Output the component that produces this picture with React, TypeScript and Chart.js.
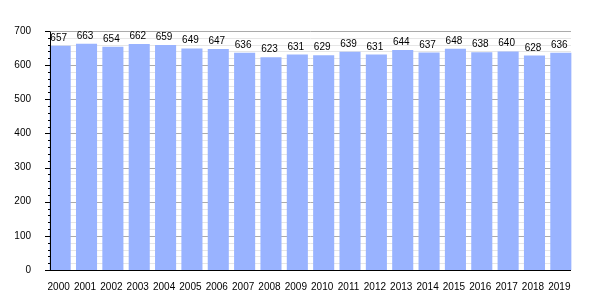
import React, { useEffect, useRef } from "react";
import { Chart, registerables } from "chart.js";

Chart.register(...registerables);

const years = [
  "2000", "2001", "2002", "2003", "2004", "2005", "2006", "2007", "2008", "2009",
  "2010", "2011", "2012", "2013", "2014", "2015", "2016", "2017", "2018", "2019",
];
const values = [
  657, 663, 654, 662, 659, 649, 647, 636, 623, 631,
  629, 639, 631, 644, 637, 648, 638, 640, 628, 636,
];
const yMin = 0;
const yMax = 700;
const yMinorStep = 20;
const yMajorStep = 100;

const FONT = "'Liberation Sans', Arial, Helvetica, sans-serif";
const BAR_COLOR = "#99b3ff";

const customPlugin = {
  id: "customAxes",
  beforeDatasetsDraw(chart: any) {
    const ctx = chart.ctx;
    const y = chart.scales.y;
    const meta = chart.getDatasetMeta(0);
    const first = meta.data[0];
    const last = meta.data[meta.data.length - 1];
    const left = Math.round(first.x - first.width / 2);
    const right = Math.round(last.x + last.width / 2);
    ctx.save();
    ctx.lineWidth = 1;
    for (let v = yMin; v <= yMax; v += yMinorStep) {
      const py = Math.round(y.getPixelForValue(v)) + 0.5;
      ctx.strokeStyle = v % yMajorStep === 0 ? "#ababab" : "#e6e6e6";
      ctx.beginPath();
      ctx.moveTo(left, py);
      ctx.lineTo(right, py);
      ctx.stroke();
    }
    ctx.restore();
  },
  afterDatasetsDraw(chart: any) {
    const ctx = chart.ctx;
    const y = chart.scales.y;
    const meta = chart.getDatasetMeta(0);
    const first = meta.data[0];
    const last = meta.data[meta.data.length - 1];
    const left = Math.round(first.x - first.width / 2);
    const right = Math.round(last.x + last.width / 2);
    const ax = left + 0.5;
    const top = Math.round(y.getPixelForValue(yMax)) + 0.5;
    const bottom = Math.round(y.getPixelForValue(yMin)) + 0.5;
    ctx.save();
    ctx.strokeStyle = "#000";
    ctx.lineWidth = 1;
    ctx.beginPath();
    ctx.moveTo(ax, top);
    ctx.lineTo(ax, bottom);
    ctx.stroke();
    ctx.beginPath();
    ctx.moveTo(left - 5, bottom);
    ctx.lineTo(right, bottom);
    ctx.stroke();
    for (let v = yMin; v <= yMax; v += yMinorStep) {
      const py = Math.round(y.getPixelForValue(v)) + 0.5;
      const len = v % yMajorStep === 0 ? 5 : 2;
      ctx.beginPath();
      ctx.moveTo(left - len, py);
      ctx.lineTo(left, py);
      ctx.stroke();
    }
    ctx.fillStyle = "#000";
    ctx.font = `10px ${FONT}`;
    ctx.textAlign = "center";
    ctx.textBaseline = "alphabetic";
    meta.data.forEach((bar: any, i: number) => {
      ctx.fillText(String(values[i]), bar.x - 1.5, bar.y - 5);
    });
    ctx.restore();
  },
};

export default function App() {
  const ref = useRef<HTMLCanvasElement>(null);
  useEffect(() => {
    if (!ref.current) return;
    const chart = new Chart(ref.current, {
      type: "bar",
      data: {
        labels: years,
        datasets: [
          {
            data: values,
            backgroundColor: BAR_COLOR,
            borderWidth: 0,
            barPercentage: 0.8,
            categoryPercentage: 1,
          },
        ],
      },
      options: {
        animation: false,
        responsive: false,
        devicePixelRatio: 1,
        layout: { padding: { top: 31, right: 26, left: 0, bottom: 0 } },
        plugins: {
          legend: { display: false },
          tooltip: { enabled: false },
          title: { display: false },
        },
        scales: {
          x: {
            grid: { display: false },
            border: { display: false },
            ticks: {
              color: "#000",
              font: { family: FONT, size: 10 },
              padding: 3,
              labelOffset: -1.5,
              maxRotation: 0,
              autoSkip: false,
            },
            afterFit: (scale: any) => {
              scale.height = 30;
            },
          },
          y: {
            min: yMin,
            max: yMax,
            grid: { display: false },
            border: { display: false },
            ticks: {
              stepSize: yMinorStep,
              autoSkip: false,
              color: "#000",
              font: { family: FONT, size: 10 },
              padding: 8,
              callback: (v: any) => (Number(v) % yMajorStep === 0 ? String(v) : ""),
            },
            afterFit: (scale: any) => {
              scale.width = 47;
            },
          },
        },
      },
      plugins: [customPlugin],
    });
    return () => chart.destroy();
  }, []);
  return (
    <div style={{ position: "absolute", left: 0, top: 0, width: 600, height: 300 }}>
      <canvas ref={ref} width={600} height={300} style={{ display: "block" }} />
    </div>
  );
}
